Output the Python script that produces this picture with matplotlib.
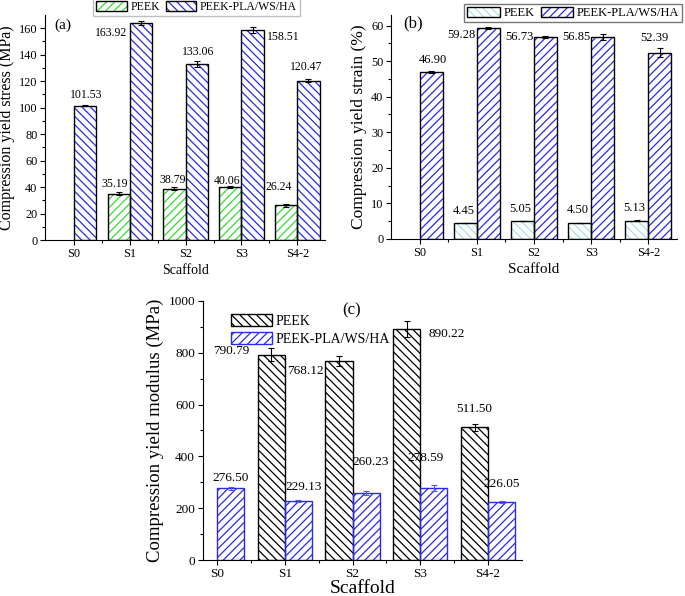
import numpy as np
import matplotlib.pyplot as plt
from matplotlib.patches import Patch

plt.rcParams['font.family'] = ['Liberation Serif', 'DejaVu Serif']
plt.rcParams['hatch.linewidth'] = 0.9

# データ
cats = ['S0', 'S1', 'S2', 'S3', 'S4-2']
series = ['PEEK', 'PEEK-PLA/WS/HA']

# (a) compression yield stress (MPa)
stress_peek = [np.nan, 35.19, 38.79, 40.06, 26.24]
stress_peek_err = [0, 0.8, 1.2, 0.5, 1.0]
stress_comp = [101.53, 163.92, 133.06, 158.51, 120.47]
stress_comp_err = [0.4, 1.2, 2.3, 2.3, 1.3]

# (b) compression yield strain (%)
strain_peek = [np.nan, 4.45, 5.05, 4.50, 5.13]
strain_peek_err = [0, 0.08, 0.08, 0.08, 0.12]
strain_comp = [46.90, 59.28, 56.73, 56.85, 52.39]
strain_comp_err = [0.3, 0.3, 0.2, 0.8, 1.3]

# (c) compression yield modulus (MPa)
mod_peek = [np.nan, 790.79, 768.12, 890.22, 511.50]
mod_peek_err = [0, 25, 20, 30, 15]
mod_comp = [276.50, 229.13, 260.23, 278.59, 226.05]
mod_comp_err = [4, 4, 8, 10, 4]

# ラベル位置のずれ (points)
off_a_peek = [None, (-3, 7), (-1.5, 6), (-2, 4.5), (-5, 13.5)]
off_a_comp = [(0.7, 8), (-21.5, -7), (0.7, 8.6), (22.3, -5), (-2, 9.4)]
off_b_peek = [None, (-1.5, 9), (-1.5, 9), (-1.5, 9), (-1.5, 9)]
off_b_comp = [(1.4, 8.6), (-19, -4.8), (-19, 0), (-19, 0), (-3.6, 10.8)]
off_c_peek = [None, (-29, 2.9), (-24, -7.2), (29, -3.6), (0, 13)]
off_c_comp = [(0, 7.2), (3.6, 10), (3.6, 22.3), (-5.8, 21.6), (0, 13)]

W = 0.4
x = np.arange(len(cats))


def hbars(ax, xs, vals, hatch, hc, ec, lw=1.0):
    ax.bar(xs, vals, W, color='white', hatch=hatch, edgecolor=hc, linewidth=0, zorder=2)
    ax.bar(xs, vals, W, color='none', edgecolor=ec, linewidth=lw, zorder=3)


def draw(ax, peek, peek_err, comp, comp_err, sty_p, sty_c, offp, offc, fs, ecol_c='k'):
    m = ~np.isnan(peek)
    xp = x[m] - W / 2
    vp = np.array(peek)[m]
    hbars(ax, xp, vp, *sty_p)
    hbars(ax, x + W / 2, comp, *sty_c)
    ax.errorbar(xp, vp, yerr=np.array(peek_err)[m], fmt='none', ecolor='k',
                elinewidth=0.8, capsize=2.5, capthick=0.8, zorder=4)
    ax.errorbar(x + W / 2, comp, yerr=comp_err, fmt='none', ecolor=ecol_c,
                elinewidth=0.8, capsize=2.5, capthick=0.8, zorder=4)
    for i in range(len(cats)):
        if not np.isnan(peek[i]):
            ax.annotate(f'{peek[i]:.2f}', (x[i] - W / 2, peek[i]), xytext=offp[i],
                        textcoords='offset points', ha='center', va='center', fontsize=fs)
        ax.annotate(f'{comp[i]:.2f}', (x[i] + W / 2, comp[i]), xytext=offc[i],
                    textcoords='offset points', ha='center', va='center', fontsize=fs)


def style(ax, ylim, major, minor, tfs):
    ax.spines['top'].set_visible(False)
    ax.spines['right'].set_visible(False)
    ax.set_ylim(*ylim)
    ax.set_yticks(np.arange(0, ylim[1] + 0.01, major))
    ax.set_yticks(np.arange(minor, ylim[1], minor), minor=True)
    ax.set_xticks(x)
    ax.set_xticklabels(cats)
    ax.set_xticks(x[:-1] + 0.5, minor=True)
    ax.tick_params(direction='out', length=3.5, width=0.8, labelsize=tfs, pad=2)
    ax.tick_params(which='minor', direction='out', length=2, width=0.8)


def leg_handle(hatch, hc, ec, lw=1.0):
    return (Patch(facecolor='white', hatch=hatch, edgecolor=hc, linewidth=0),
            Patch(facecolor='none', edgecolor=ec, linewidth=lw))


fig = plt.figure(figsize=(6.85, 5.96), dpi=100)
ax1 = fig.add_axes([0.0657, 0.597, 0.409, 0.378])
ax2 = fig.add_axes([0.571, 0.599, 0.417, 0.376])
ax3 = fig.add_axes([0.296, 0.060, 0.466, 0.4355])

# (a)
sa_p = ('////', '#33dd33', 'k')
sa_c = ('\\\\\\\\', '#2a2aee', 'k')
draw(ax1, stress_peek, stress_peek_err, stress_comp, stress_comp_err, sa_p, sa_c,
     off_a_peek, off_a_comp, 8.5)
style(ax1, (0, 170), 20, 10, 8.8)
ax1.set_xlim(-0.52, 4.5)
ax1.set_ylabel('Compression yield stress (MPa)', fontsize=11.5, labelpad=3)
ax1.set_xlabel('Scaffold', fontsize=10, labelpad=3)
ax1.text(0.064, 0.955, '(a)', transform=ax1.transAxes, ha='center', va='center', fontsize=11)
ax1.legend([leg_handle(*sa_p), leg_handle(*sa_c)], series, ncol=2, loc='upper right',
           bbox_to_anchor=(0.91, 1.075), fontsize=8.5, frameon=True, fancybox=False,
           edgecolor='#b0b0b0', handlelength=2.6, handleheight=0.9, columnspacing=0.5,
           handletextpad=0.3, borderpad=0.25, borderaxespad=0)

# (b)
sb_p = ('\\\\\\\\', '#a8e4e4', 'k')
sb_c = ('////', '#2a2aee', 'k')
draw(ax2, strain_peek, strain_peek_err, strain_comp, strain_comp_err, sb_p, sb_c,
     off_b_peek, off_b_comp, 9)
style(ax2, (0, 63), 10, 5, 8.8)
ax2.set_xlim(-0.5, 4.5)
ax2.set_ylabel('Compression yield strain (%)', fontsize=12.5, labelpad=3)
ax2.set_xlabel('Scaffold', fontsize=11, labelpad=3)
ax2.text(0.077, 0.964, '(b)', transform=ax2.transAxes, ha='center', va='center', fontsize=12)
ax2.legend([leg_handle(*sb_p), leg_handle(*sb_c)], series, ncol=2, loc='upper right',
           bbox_to_anchor=(1.02, 1.05), fontsize=9, frameon=True, fancybox=False,
           edgecolor='#555555', handlelength=2.6, handleheight=0.9, columnspacing=0.5,
           handletextpad=0.3, borderpad=0.25, borderaxespad=0)

# (c)
sc_p = ('\\\\\\\\', 'k', 'k')
sc_c = ('////', '#2a2aee', '#2a2aee')
draw(ax3, mod_peek, mod_peek_err, mod_comp, mod_comp_err, sc_p, sc_c,
     off_c_peek, off_c_comp, 9.5, ecol_c='#5555ee')
style(ax3, (0, 1000), 200, 100, 9.5)
ax3.set_xlim(-0.21, 4.5)
ax3.set_ylabel('Compression yield modulus (MPa)', fontsize=13.5, labelpad=3)
ax3.set_xlabel('Scaffold', fontsize=14, labelpad=0)
ax3.text(0.467, 0.962, '(c)', transform=ax3.transAxes, ha='center', va='center', fontsize=12)
ax3.legend([leg_handle(*sc_p), leg_handle(*sc_c)], series, loc='upper left',
           bbox_to_anchor=(0.085, 0.955), fontsize=10, frameon=False,
           handlelength=2.9, handleheight=1.0, handletextpad=0.3, labelspacing=0.3,
           borderpad=0.1, borderaxespad=0)

fig.savefig('out.png', dpi=100)
